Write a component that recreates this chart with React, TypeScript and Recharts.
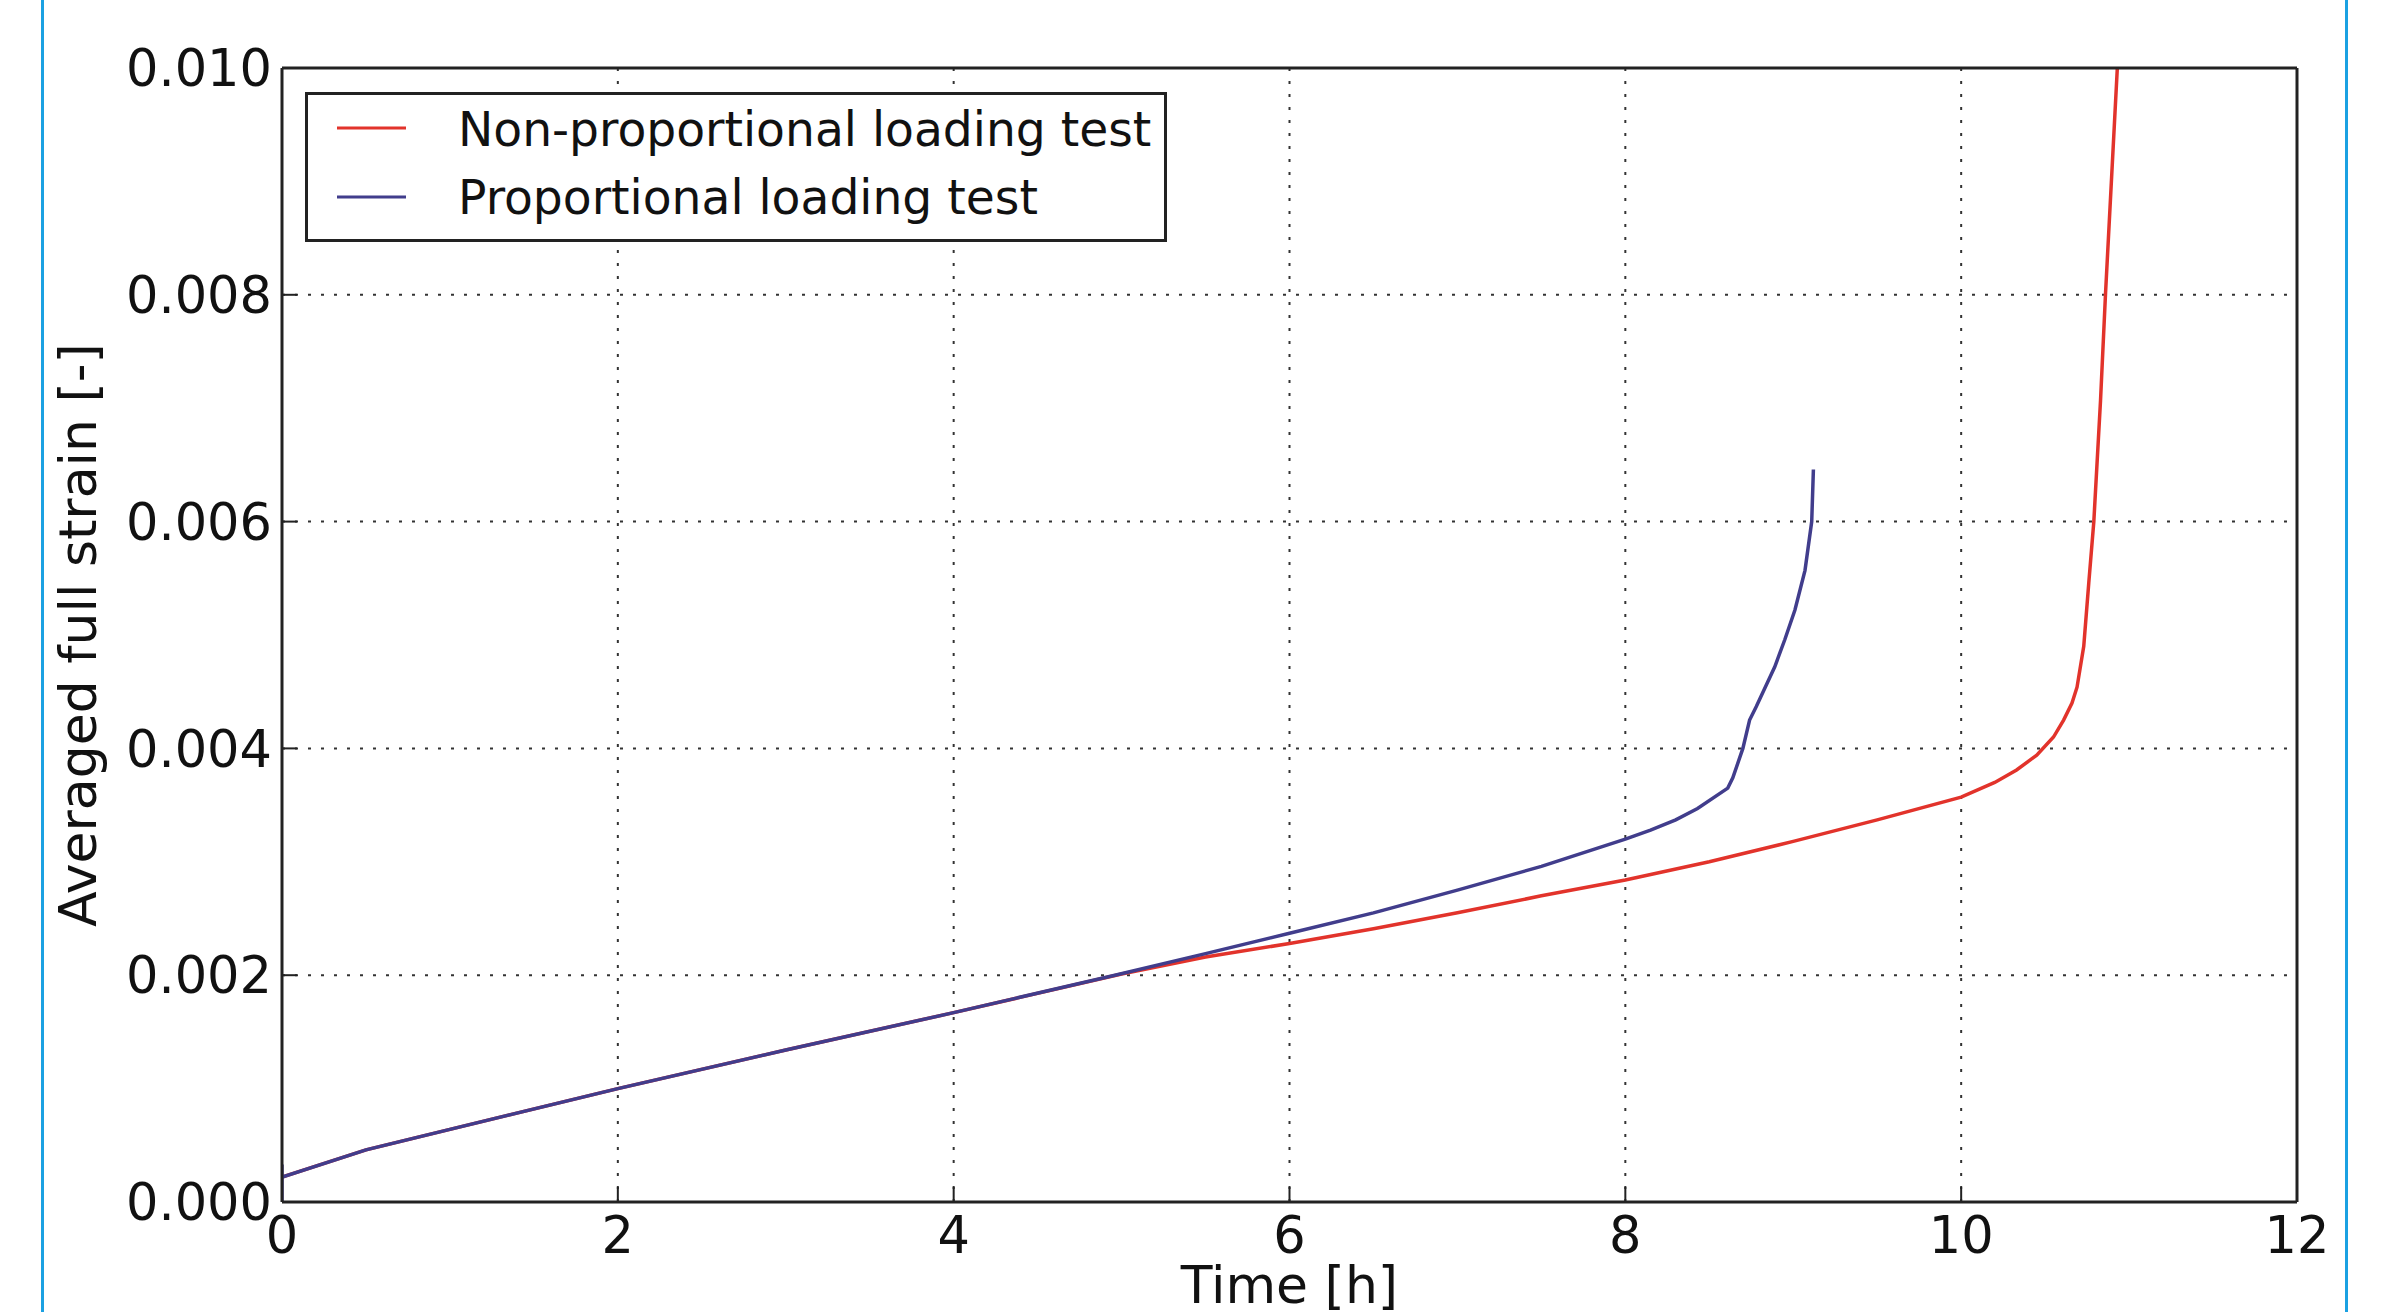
import React from "react";
import { LineChart, Line, XAxis, YAxis, CartesianGrid, Legend } from "recharts";

const xTicks = [0, 2, 4, 6, 8, 10, 12];
const yTicks = [0, 0.002, 0.004, 0.006, 0.008, 0.01];

// Non-proportional loading test (red)
const nonPropTime = [0, 0.5, 1, 2, 3, 4, 5, 5.5, 6, 6.5, 7, 7.5, 8, 8.5, 9, 9.5, 10, 10.2, 10.33, 10.45, 10.55, 10.61, 10.66, 10.69, 10.73, 10.76, 10.79, 10.83, 10.86, 10.93];
const nonPropStrain = [0.00022, 0.00046, 0.00064, 0.001, 0.00134, 0.00167, 0.00201, 0.00216, 0.00228, 0.00241, 0.00255, 0.0027, 0.00284, 0.003, 0.00318, 0.00337, 0.00357, 0.0037, 0.00381, 0.00394, 0.0041, 0.00425, 0.0044, 0.00454, 0.0049, 0.00546, 0.006, 0.00707, 0.00802, 0.01];

// Proportional loading test (blue)
const propTime = [0, 0, 0, 0.5, 1, 2, 3, 4, 4.96, 5.5, 6, 6.5, 7, 7.5, 8, 8.15, 8.3, 8.43, 8.61, 8.64, 8.7, 8.74, 8.78, 8.89, 8.95, 9.01, 9.07, 9.11, 9.12];
const propStrain = [0, 0.00033, 0.00022, 0.00046, 0.00064, 0.001, 0.00134, 0.00167, 0.002, 0.00219, 0.00237, 0.00255, 0.00275, 0.00296, 0.0032, 0.00328, 0.00337, 0.00347, 0.00365, 0.00374, 0.004, 0.00425, 0.00437, 0.00472, 0.00496, 0.00522, 0.00557, 0.006, 0.00646];

const seriesNames = ["Non-proportional loading test", "Proportional loading test"];
const RED = "#e2332b";
const BLUE = "#413d8c";
const FONT = "DejaVu Sans";

const nonPropData = nonPropTime.map((t, i) => ({ t, strain: nonPropStrain[i] }));
const propData = propTime.map((t, i) => ({ t, strain: propStrain[i] }));

function LegendBox() {
  const colors = [RED, BLUE];
  return (
    <svg width={862} height={150} style={{ display: "block" }}>
      <rect x={1.5} y={1.5} width={859} height={147} fill="#fff" stroke="#222" strokeWidth={3} />
      {seriesNames.map((name, i) => (
        <g key={name}>
          <line x1={32} x2={101} y1={36 + i * 69} y2={36 + i * 69} stroke={colors[i]} strokeWidth={3} />
          <text x={153} y={54 + i * 68} fontFamily={FONT} fontSize={47.2} fill="#111">{name}</text>
        </g>
      ))}
    </svg>
  );
}

export default function App() {
  return (
    <div style={{ position: "absolute", left: 0, top: 0, width: 2393, height: 1312, background: "#fff", overflow: "hidden" }}>
      <div style={{ position: "absolute", left: 41, top: 0, width: 3, height: 1312, background: "#1ba1e2" }} />
      <div style={{ position: "absolute", left: 2345, top: 0, width: 3, height: 1312, background: "#1ba1e2" }} />
      <LineChart width={2393} height={1312} margin={{ top: 58, right: 86, bottom: 50, left: 222 }}>
        <CartesianGrid stroke="#333" strokeWidth={2} strokeDasharray="3 10" />
        <XAxis
          xAxisId={0}
          dataKey="t"
          type="number"
          domain={[0, 12]}
          ticks={xTicks}
          allowDataOverflow
          height={60}
          axisLine={{ stroke: "#222", strokeWidth: 3 }}
          tickLine={{ stroke: "#222", strokeWidth: 2 }}
          tickSize={-15}
          tickMargin={30}
          tick={{ fontFamily: FONT, fontSize: 51, fill: "#111" }}
          label={({ viewBox }: any) => (
            <text x={viewBox.x + viewBox.width / 2} y={viewBox.y + 101} textAnchor="middle" fontFamily={FONT} fontSize={52} fill="#111">Time [h]</text>
          )}
        />
        <XAxis
          xAxisId="top"
          orientation="top"
          type="number"
          domain={[0, 12]}
          ticks={xTicks}
          height={10}
          axisLine={{ stroke: "#222", strokeWidth: 3 }}
          tickLine={{ stroke: "#222", strokeWidth: 2 }}
          tickSize={-15}
          tick={false}
        />
        <YAxis
          yAxisId={0}
          type="number"
          domain={[0, 0.01]}
          ticks={yTicks}
          allowDataOverflow
          width={60}
          axisLine={{ stroke: "#222", strokeWidth: 3 }}
          tickLine={{ stroke: "#222", strokeWidth: 2 }}
          tickSize={-15}
          tickMargin={25}
          tickFormatter={(v: number) => v.toFixed(3)}
          tick={{ fontFamily: FONT, fontSize: 51, fill: "#111" }}
          label={({ viewBox }: any) => {
            const cx = viewBox.x - 126;
            const cy = viewBox.y + viewBox.height / 2;
            return (
              <text x={cx} y={cy} transform={`rotate(-90 ${cx} ${cy})`} textAnchor="middle" fontFamily={FONT} fontSize={52} fill="#111">Averaged full strain [-]</text>
            );
          }}
        />
        <YAxis
          yAxisId="right"
          orientation="right"
          type="number"
          domain={[0, 0.01]}
          ticks={yTicks}
          width={10}
          axisLine={{ stroke: "#222", strokeWidth: 3 }}
          tickLine={{ stroke: "#222", strokeWidth: 2 }}
          tickSize={-15}
          tick={false}
        />
        <Legend
          layout="vertical"
          align="center"
          verticalAlign="middle"
          wrapperStyle={{ left: 305, top: 92, width: 862, height: 150 }}
          content={() => <LegendBox />}
        />
        <Line data={nonPropData} dataKey="strain" name={seriesNames[0]} type="linear" stroke={RED} strokeWidth={3.5} dot={false} isAnimationActive={false} />
        <Line data={propData} dataKey="strain" name={seriesNames[1]} type="linear" stroke={BLUE} strokeWidth={3.5} dot={false} isAnimationActive={false} />
      </LineChart>
    </div>
  );
}
